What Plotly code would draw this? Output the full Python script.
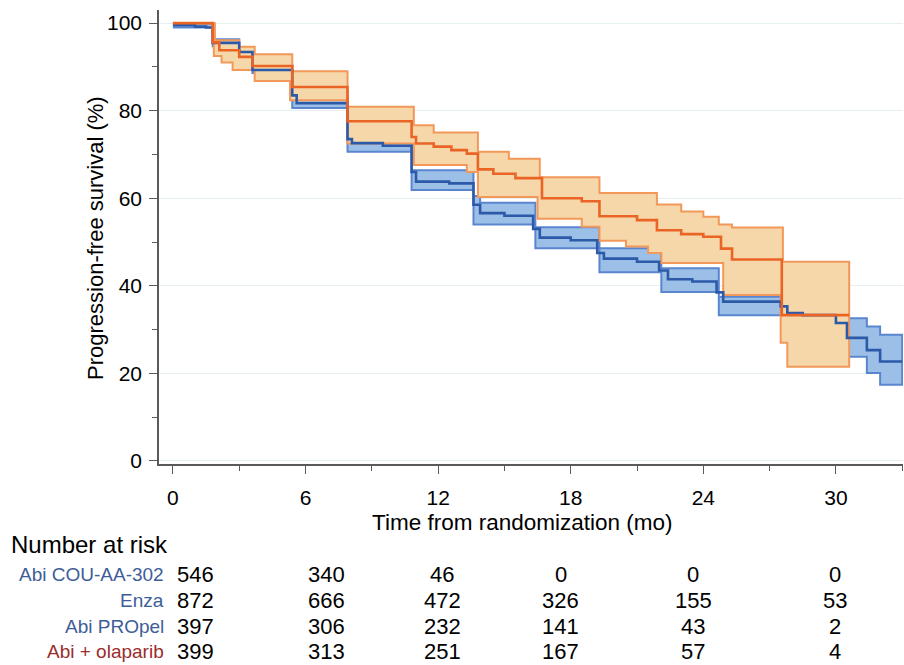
import plotly.graph_objects as go

# ---------------- data ----------------
# Abi + olaparib (orange)
ola_t = [0, 1.8, 2.1, 3.0, 3.6, 5.4, 7.9, 10.8, 11.0, 11.8, 12.6, 13.3, 13.8, 14.5, 15.5, 16.7, 18.5, 19.3, 21.0, 21.9, 23.0, 24.0, 24.8, 25.3, 27.55]
ola_s = [100, 95.6, 93.8, 92.3, 90.2, 85.4, 77.6, 74.0, 72.5, 71.8, 71.0, 70.2, 66.6, 65.6, 64.6, 60.0, 59.3, 55.9, 55.0, 52.7, 51.8, 51.2, 48.5, 46.0, 33.3]
ola_end = 30.6

ola_up_t = [0, 1.9, 3.0, 3.7, 5.4, 7.9, 10.9, 11.8, 13.8, 15.2, 16.6, 19.3, 21.9, 23.0, 24.0, 24.7, 25.3, 27.6]
ola_up_s = [100, 96.1, 94.6, 92.9, 89.0, 80.9, 76.7, 75.0, 70.6, 69.0, 64.8, 61.2, 58.6, 57.0, 55.8, 54.0, 53.3, 45.5]

ola_lo_t = [0, 1.85, 2.2, 2.7, 3.7, 5.3, 7.9, 10.9, 13.3, 13.8, 16.5, 18.5, 19.3, 20.5, 21.5, 22.1, 24.9, 27.5, 27.8]
ola_lo_s = [100, 92.5, 91.0, 89.3, 86.8, 82.4, 72.5, 67.6, 66.0, 60.3, 55.3, 53.5, 50.3, 49.0, 47.5, 45.2, 37.9, 27.0, 21.5]

# Pooled abiraterone / enzalutamide controls (blue)
ctl_t = [0, 1.0, 1.5, 1.8, 3.0, 3.6, 5.4, 5.6, 7.9, 8.1, 9.5, 10.8, 11.0, 12.5, 13.6, 13.9, 15.0, 16.3, 16.6, 18.0, 19.2, 19.5, 21.0, 22.0, 22.4, 23.5, 24.6, 24.9, 27.5, 27.8, 28.5, 30.0, 30.5, 31.4, 32.0]
ctl_s = [99.5, 99.2, 99.0, 95.5, 93.4, 89.3, 83.5, 81.7, 73.5, 72.6, 72.0, 66.0, 63.8, 63.4, 58.5, 56.6, 56.0, 53.0, 51.0, 50.4, 47.5, 46.2, 45.5, 43.5, 41.5, 41.0, 38.5, 36.4, 35.3, 33.8, 33.3, 31.5, 28.1, 25.3, 22.7]
ctl_end = 33.0

ctl_up_t = [0, 1.8, 3.0, 3.6, 5.4, 7.9, 9.5, 10.8, 13.6, 13.9, 16.4, 19.3, 22.1, 24.7, 27.6, 30.5, 31.4, 32.0]
ctl_up_s = [99.9, 96.3, 94.5, 90.4, 83.1, 74.5, 73.5, 66.4, 60.5, 59.0, 53.4, 48.6, 44.0, 37.5, 35.5, 32.6, 30.7, 28.8]

ctl_lo_t = [0, 1.8, 3.0, 3.6, 5.4, 7.9, 10.8, 13.6, 16.4, 19.3, 22.1, 24.7, 27.6, 29.5, 30.5, 31.4, 32.0]
ctl_lo_s = [99.0, 94.7, 92.5, 88.6, 80.6, 70.6, 61.9, 54.0, 48.6, 43.1, 38.6, 33.3, 29.5, 26.5, 23.8, 20.1, 17.4]

# Number at risk table
risk_times = [0, 6, 12, 18, 24, 30]
risk_labels = ["Abi COU-AA-302", "Enza", "Abi PROpel", "Abi + olaparib"]
risk_abi_cou = [546, 340, 46, 0, 0, 0]
risk_enza = [872, 666, 472, 326, 155, 53]
risk_abi_propel = [397, 306, 232, 141, 43, 2]
risk_abi_olaparib = [399, 313, 251, 167, 57, 4]

x_ticks = [0, 6, 12, 18, 24, 30]
y_ticks = [0, 20, 40, 60, 80, 100]

# ---------------- styling ----------------
FONT = "Liberation Sans, Arial, Helvetica, sans-serif"
OR_MED = "#ea6426"
OR_CI = "#f2985a"
OR_FILL = "#f6d7a9"
BL_MED = "#2c5aa8"
BL_CI = "#5a86cf"
BL_FILL = "#9bbfe7"
LBL_BLUE = "#3d5d98"
LBL_RED = "#9b2d2d"

W, H = 904, 665
ML, MR, MT, MB = 159, 1, 10, 201
PW, PH = W - ML - MR, H - MT - MB


def steps(t, s, t_end):
    xs, ys = [], []
    for i in range(len(t)):
        t1 = t[i + 1] if i + 1 < len(t) else t_end
        xs += [t[i], t1]
        ys += [s[i], s[i]]
    return xs, ys


def band(tu, su, tl, sl, t_end):
    ux, uy = steps(tu, su, t_end)
    lx, ly = steps(tl, sl, t_end)
    return ux + lx[::-1], uy + ly[::-1]


# convert window pixel positions to paper coordinates
def px_x(p):
    return (p - ML) / PW


def px_y(p):
    return (H - MB - p) / PH


fig = go.Figure()

bx, by = band(ctl_up_t, ctl_up_s, ctl_lo_t, ctl_lo_s, ctl_end)
fig.add_trace(go.Scatter(x=bx, y=by, mode="lines", fill="toself", fillcolor=BL_FILL,
                         line=dict(color=BL_CI, width=2), hoverinfo="skip", showlegend=False))
ox, oy = band(ola_up_t, ola_up_s, ola_lo_t, ola_lo_s, ola_end)
fig.add_trace(go.Scatter(x=ox, y=oy, mode="lines", fill="toself", fillcolor=OR_FILL,
                         line=dict(color=OR_CI, width=2), hoverinfo="skip", showlegend=False))

mx, my = steps(ctl_t, ctl_s, ctl_end)
fig.add_trace(go.Scatter(x=mx, y=my, mode="lines", line=dict(color=BL_MED, width=2.6),
                         name="Control", showlegend=False))
mx, my = steps(ola_t, ola_s, ola_end)
fig.add_trace(go.Scatter(x=mx, y=my, mode="lines", line=dict(color=OR_MED, width=2.6),
                         name="Abi + olaparib", showlegend=False))

x0 = -0.63
x1 = x0 + PW / 22.1
fig.update_xaxes(range=[x0, x1], tickmode="array", tickvals=x_ticks,
                 ticktext=[str(v) for v in x_ticks],
                 showline=True, linecolor="#5a5a5a", linewidth=1.6,
                 ticks="outside", ticklen=8, tickwidth=1.4, tickcolor="#5a5a5a",
                 minor=dict(dtick=3, tick0=0, ticklen=5, tickwidth=1.2, tickcolor="#5a5a5a", ticks="outside"),
                 showgrid=False, zeroline=False,
                 tickfont=dict(family=FONT, size=21, color="#000"),
                 ticklabelstandoff=6)
fig.update_yaxes(range=[-0.7, 103.0], tickmode="array", tickvals=y_ticks,
                 ticktext=[str(v) for v in y_ticks],
                 showline=True, linecolor="#5a5a5a", linewidth=1.6,
                 ticks="outside", ticklen=8, tickwidth=1.4, tickcolor="#5a5a5a",
                 minor=dict(dtick=10, tick0=0, ticklen=5, tickwidth=1.2, tickcolor="#5a5a5a", ticks="outside",
                            showgrid=False),
                 showgrid=True, gridcolor="#e6f0f2", gridwidth=1.2, zeroline=False,
                 tickfont=dict(family=FONT, size=21, color="#000"),
                 ticklabelstandoff=3)

ann = []
ann.append(dict(text="Time from randomization (mo)", xref="paper", yref="paper",
                x=px_x(522), y=px_y(522), showarrow=False, xanchor="center", yanchor="middle",
                font=dict(family=FONT, size=22.5, color="#000")))
ann.append(dict(text="Progression-free survival (%)", xref="paper", yref="paper",
                x=px_x(95), y=px_y(238), showarrow=False, textangle=-90,
                xanchor="center", yanchor="middle",
                font=dict(family=FONT, size=22, color="#000")))
ann.append(dict(text="Number at risk", xref="paper", yref="paper",
                x=px_x(9), y=px_y(544), showarrow=False, xanchor="left", yanchor="middle",
                font=dict(family=FONT, size=24, color="#000")))

rows = [risk_abi_cou, risk_enza, risk_abi_propel, risk_abi_olaparib]
row_colors = [LBL_BLUE, LBL_BLUE, LBL_BLUE, LBL_RED]
row_py = [574, 600, 626, 651]
col_shift = [23, 21, 4, -10, -10, -1]
for lbl, vals, col, py in zip(risk_labels, rows, row_colors, row_py):
    ann.append(dict(text=lbl, xref="paper", yref="paper", x=px_x(166), y=px_y(py),
                    showarrow=False, xanchor="right", yanchor="middle",
                    font=dict(family=FONT, size=19, color=col)))
    for t, v, sh in zip(risk_times, vals, col_shift):
        ann.append(dict(text=str(v), xref="x", yref="paper", x=t, xshift=sh, y=px_y(py),
                        showarrow=False, xanchor="center", yanchor="middle",
                        font=dict(family=FONT, size=22, color="#000")))

fig.update_layout(width=W, height=H, margin=dict(l=ML, r=MR, t=MT, b=MB),
                  paper_bgcolor="white", plot_bgcolor="white",
                  annotations=ann, showlegend=False)

# remove the default page margin so the 904x665 figure fills the window exactly
fig.write_html("out.html", config={"displayModeBar": False},
               post_script="document.body.style.margin='0px';document.body.style.overflow='hidden';")
